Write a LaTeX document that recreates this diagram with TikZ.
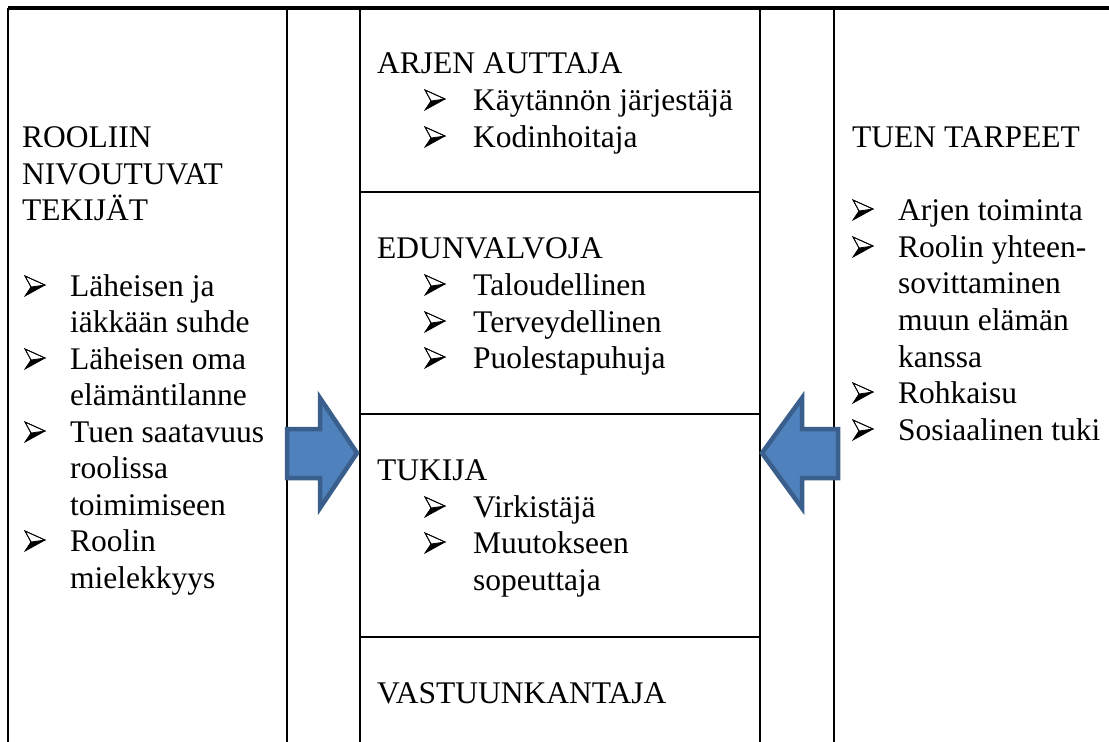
\documentclass[tikz,border=0pt]{standalone}
\usepackage{fontspec}
\setmainfont{Liberation Serif}
\definecolor{arrfill}{HTML}{4F81BD}
\definecolor{arrdraw}{HTML}{3A5F8C}
\begin{document}
\begin{tikzpicture}[x=1pt,y=-1pt,
  txt/.style={anchor=base west,inner sep=0pt,font=\fontsize{31.5}{36.5}\selectfont},
  rule/.style={line width=2.6pt,black},
  toprule/.style={line width=3.2pt,black},
  bigarrow/.style={fill=arrfill,draw=arrdraw,line width=4.5pt,line join=miter},
  bul/.pic={
    \fill[black] (6,-9) -- (20,-11) -- (0,0) -- cycle;
    \draw[black,line width=0.8pt,fill=white,line join=miter] (0,-20) -- (20,-11) -- (6,-9) -- cycle;
    \draw[black,line width=0.8pt,line join=miter] (0,-20) -- (20,-11) -- (0,0) -- (6,-9) -- cycle;
  }]
\useasboundingbox (0,0) rectangle (1109,742);
\fill[white] (0,0) rectangle (1109,742);

% frame lines
\coordinate (tl) at (8,8);
\coordinate (tr) at (1109,8);
\draw[rule] (8,8) -- (8,742);
\draw[rule] (287,8) -- (287,742);
\draw[rule] (360,8) -- (360,742);
\draw[rule] (760,8) -- (760,742);
\draw[rule] (834,8) -- (834,742);
\draw[rule] (360,192) -- (760,192);
\draw[rule] (360,414) -- (760,414);
\draw[rule] (360,637) -- (760,637);
\draw[toprule] (tl) -- (tr);

% block arrows
\draw[bigarrow] (287,429) -- (320,429) -- (320,398) -- (357,453) -- (320,508) -- (320,478) -- (287,478) -- cycle;
\draw[bigarrow] (838,429) -- (802,429) -- (802,398) -- (762,453) -- (802,508) -- (802,478) -- (838,478) -- cycle;

% left column
\node[txt] (l1) at (22,147) {ROOLIIN};
\node[txt] (l2) at (22,184) {NIVOUTUVAT};
\node[txt] (l3) at (22,220) {TEKIJÄT};
\pic at (25,296) {bul};
\node[txt] (l4) at (70,296) {Läheisen ja};
\node[txt] (l5) at (70,332) {iäkkään suhde};
\pic at (25,369) {bul};
\node[txt] (l6) at (70,369) {Läheisen oma};
\node[txt] (l7) at (70,405) {elämäntilanne};
\pic at (25,442) {bul};
\node[txt] (l8) at (70,442) {Tuen saatavuus};
\node[txt] (l9) at (70,478) {roolissa};
\node[txt] (l10) at (70,515) {toimimiseen};
\pic at (25,551) {bul};
\node[txt] (l11) at (70,551) {Roolin};
\node[txt] (l12) at (70,588) {mielekkyys};

% center column
\node[txt] (c1) at (377,73) {ARJEN AUTTAJA};
\pic at (425,110) {bul};
\node[txt] (c2) at (473,110) {Käytännön järjestäjä};
\pic at (425,147) {bul};
\node[txt] (c3) at (473,147) {Kodinhoitaja};
\node[txt] (c4) at (377,258) {EDUNVALVOJA};
\pic at (425,295) {bul};
\node[txt] (c5) at (473,295) {Taloudellinen};
\pic at (425,332) {bul};
\node[txt] (c6) at (473,332) {Terveydellinen};
\pic at (425,368) {bul};
\node[txt] (c7) at (473,368) {Puolestapuhuja};
\node[txt] (c8) at (377,480) {TUKIJA};
\pic at (425,517) {bul};
\node[txt] (c9) at (473,517) {Virkistäjä};
\pic at (425,553) {bul};
\node[txt] (c10) at (473,553) {Muutokseen};
\node[txt] (c11) at (473,590) {sopeuttaja};
\node[txt] (c12) at (377,703) {VASTUUNKANTAJA};

% right column
\node[txt] (r1) at (852,147) {TUEN TARPEET};
\pic at (853,220) {bul};
\node[txt] (r2) at (898,220) {Arjen toiminta};
\pic at (853,257) {bul};
\node[txt] (r3) at (898,257) {Roolin yhteen-};
\node[txt] (r4) at (898,293) {sovittaminen};
\node[txt] (r5) at (898,330) {muun elämän};
\node[txt] (r6) at (898,367) {kanssa};
\pic at (853,403) {bul};
\node[txt] (r7) at (898,403) {Rohkaisu};
\pic at (853,440) {bul};
\node[txt] (r8) at (898,440) {Sosiaalinen tuki};
\end{tikzpicture}
\end{document}
